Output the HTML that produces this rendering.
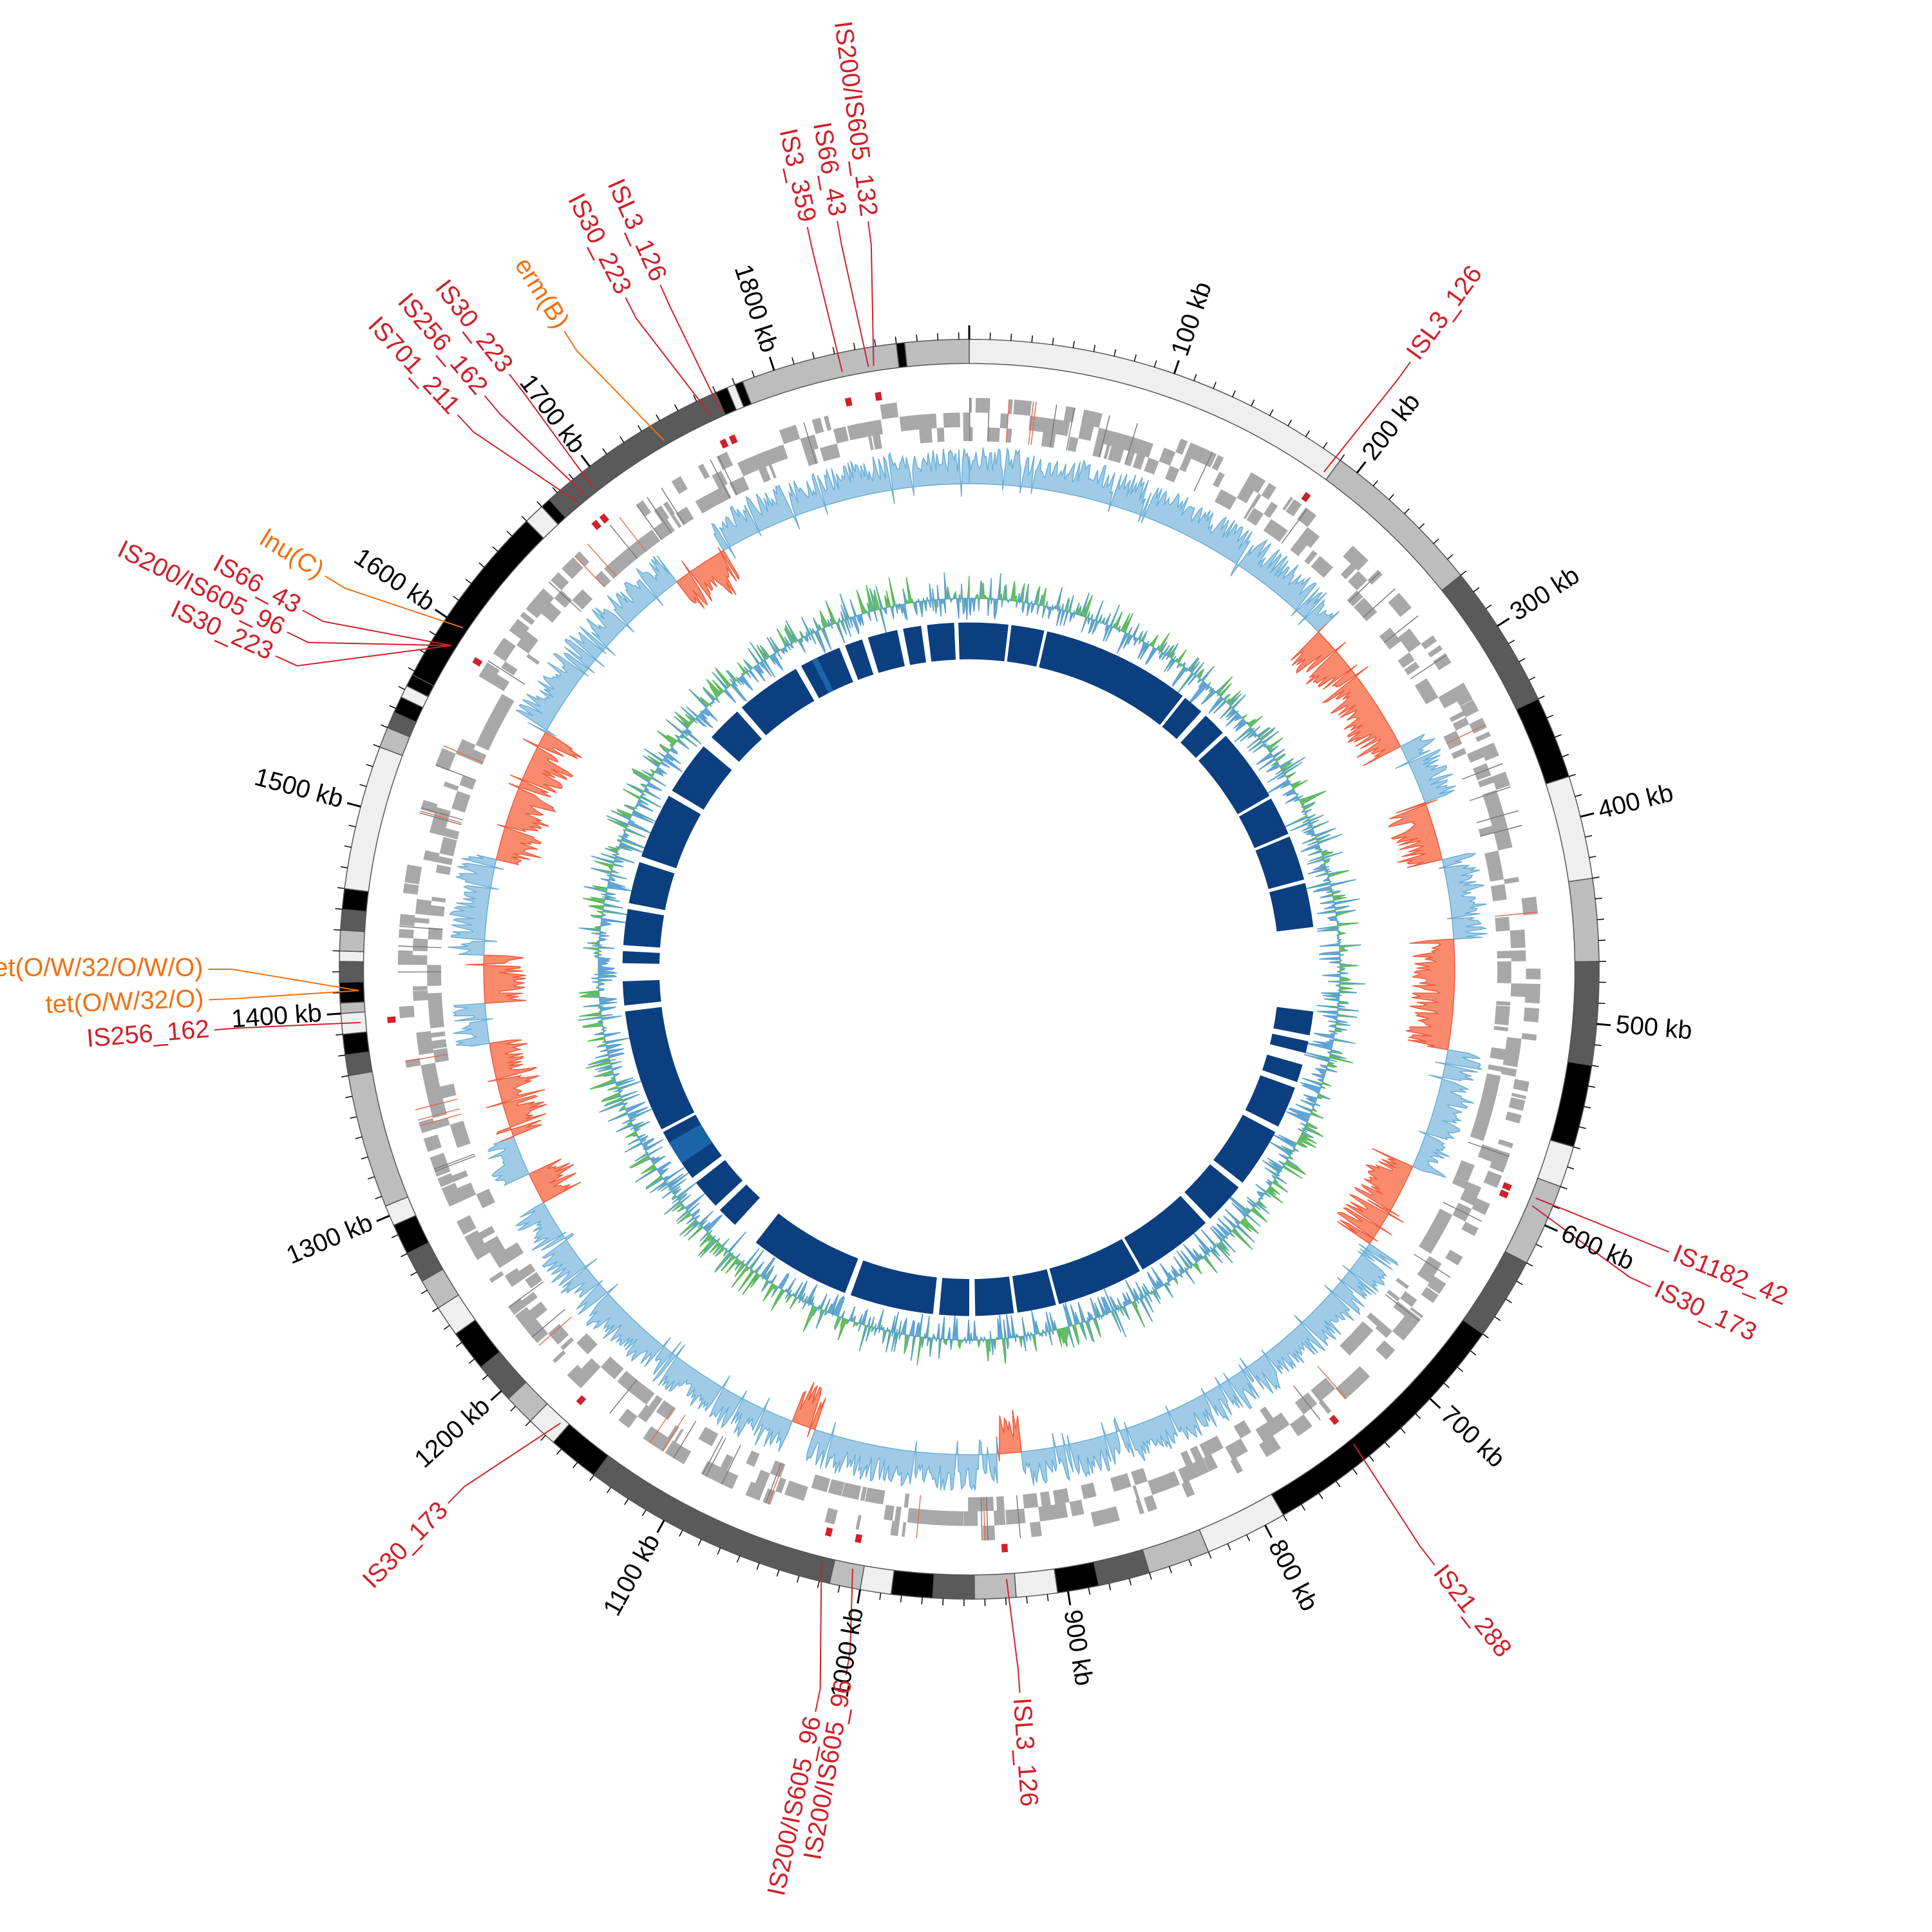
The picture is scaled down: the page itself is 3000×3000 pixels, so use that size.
<!DOCTYPE html>
<html><head><meta charset="utf-8">
<style>
html,body{margin:0;padding:0;background:#fff;}
svg{display:block;}
text{font-family:"Liberation Sans",sans-serif;font-size:40px;dominant-baseline:middle;}
.tk{fill:#000;}
.is{fill:#d0202a;}
.ab{fill:#f07010;}
</style></head>
<body>
<svg id="s" width="3000" height="3000" viewBox="0 0 3000 3000" xmlns="http://www.w3.org/2000/svg">
<rect width="3000" height="3000" fill="#fff"/>
<g transform="translate(1505,1505) scale(0.988) translate(-1524,-1524)">
<g id="shapes"></g>
<g id="lines" fill="none" stroke-width="2"></g>
<g id="labels">
<text class="tk" text-anchor="start" transform="translate(1524,1524) rotate(-71) translate(1020,0)">100 kb</text>
<text class="tk" text-anchor="start" transform="translate(1524,1524) rotate(-52) translate(1020,0)">200 kb</text>
<text class="tk" text-anchor="start" transform="translate(1524,1524) rotate(-33) translate(1020,0)">300 kb</text>
<text class="tk" text-anchor="start" transform="translate(1524,1524) rotate(-14) translate(1020,0)">400 kb</text>
<text class="tk" text-anchor="start" transform="translate(1524,1524) rotate(5) translate(1020,0)">500 kb</text>
<text class="tk" text-anchor="start" transform="translate(1524,1524) rotate(24) translate(1020,0)">600 kb</text>
<text class="tk" text-anchor="start" transform="translate(1524,1524) rotate(43) translate(1020,0)">700 kb</text>
<text class="tk" text-anchor="start" transform="translate(1524,1524) rotate(62) translate(1020,0)">800 kb</text>
<text class="tk" text-anchor="start" transform="translate(1524,1524) rotate(81) translate(1020,0)">900 kb</text>
<text class="tk" text-anchor="end" transform="translate(1524,1524) rotate(280) translate(-1020,0)">1000 kb</text>
<text class="tk" text-anchor="end" transform="translate(1524,1524) rotate(299) translate(-1020,0)">1100 kb</text>
<text class="tk" text-anchor="end" transform="translate(1524,1524) rotate(318) translate(-1020,0)">1200 kb</text>
<text class="tk" text-anchor="end" transform="translate(1524,1524) rotate(337) translate(-1020,0)">1300 kb</text>
<text class="tk" text-anchor="end" transform="translate(1524,1524) rotate(356) translate(-1020,0)">1400 kb</text>
<text class="tk" text-anchor="end" transform="translate(1524,1524) rotate(375) translate(-1020,0)">1500 kb</text>
<text class="tk" text-anchor="end" transform="translate(1524,1524) rotate(394) translate(-1020,0)">1600 kb</text>
<text class="tk" text-anchor="end" transform="translate(1524,1524) rotate(413) translate(-1020,0)">1700 kb</text>
<text class="tk" text-anchor="end" transform="translate(1524,1524) rotate(432) translate(-1020,0)">1800 kb</text>
<text class="is" text-anchor="start" transform="translate(1524,1524) rotate(-54) translate(1188,0)">ISL3_126</text>
<text class="is" text-anchor="start" transform="translate(1524,1524) rotate(22) translate(1194,0)">IS1182_42</text>
<text class="is" text-anchor="start" transform="translate(1524,1524) rotate(25) translate(1190,0)">IS30_173</text>
<text class="is" text-anchor="start" transform="translate(1524,1524) rotate(52) translate(1196,0)">IS21_288</text>
<text class="is" text-anchor="start" transform="translate(1524,1524) rotate(86) translate(1148,0)">ISL3_126</text>
<text class="is" text-anchor="end" transform="translate(1524,1524) rotate(281.7) translate(-1200,0)">IS200/IS605_96</text>
<text class="is" text-anchor="end" transform="translate(1524,1524) rotate(279.9) translate(-1134,0)">IS200/IS605_96</text>
<text class="is" text-anchor="end" transform="translate(1524,1524) rotate(314.3) translate(-1181,0)">IS30_173</text>
<text class="is" text-anchor="end" transform="translate(1524,1524) rotate(355.4) translate(-1198,0)">IS256_162</text>
<text class="ab" text-anchor="end" transform="translate(1524,1524) rotate(357.7) translate(-1204,0)">tet(O/W/32/O)</text>
<text class="ab" text-anchor="end" transform="translate(1524,1524) rotate(360) translate(-1204,0)">tet(O/W/32/O/W/O)</text>
<text class="is" text-anchor="end" transform="translate(1524,1524) rotate(384.3) translate(-1204,0)">IS30_223</text>
<text class="is" text-anchor="end" transform="translate(1524,1524) rotate(386.3) translate(-1204,0)">IS200/IS605_96</text>
<text class="is" text-anchor="end" transform="translate(1524,1524) rotate(388.3) translate(-1198,0)">IS66_43</text>
<text class="ab" text-anchor="end" transform="translate(1524,1524) rotate(391.4) translate(-1194,0)">lnu(C)</text>
<text class="is" text-anchor="end" transform="translate(1524,1524) rotate(407.3) translate(-1194,0)">IS701_211</text>
<text class="is" text-anchor="end" transform="translate(1524,1524) rotate(409.8) translate(-1188,0)">IS256_162</text>
<text class="is" text-anchor="end" transform="translate(1524,1524) rotate(412.3) translate(-1190,0)">IS30_223</text>
<text class="ab" text-anchor="end" transform="translate(1524,1524) rotate(417.6) translate(-1196,0)">erm(B)</text>
<text class="is" text-anchor="end" transform="translate(1524,1524) rotate(422.9) translate(-1194,0)">IS30_223</text>
<text class="is" text-anchor="end" transform="translate(1524,1524) rotate(425.7) translate(-1188,0)">ISL3_126</text>
<text class="is" text-anchor="end" transform="translate(1524,1524) rotate(437.7) translate(-1202,0)">IS3_359</text>
<text class="is" text-anchor="end" transform="translate(1524,1524) rotate(440) translate(-1202,0)">IS66_43</text>
<text class="is" text-anchor="end" transform="translate(1524,1524) rotate(442.3) translate(-1194,0)">IS200/IS605_132</text>
</g>
</g>
</svg>
<script>
(function(){
var C=1524,T=1895;
var G=document.getElementById("shapes"),L=document.getElementById("lines");
function P(a,r){var t=(a-90)*Math.PI/180;return [C+r*Math.cos(t),C+r*Math.sin(t)];}
function f(p){return p[0].toFixed(1)+","+p[1].toFixed(1);}
function ang(kb){return kb*360/T;}
function arc(a0,a1,r0,r1){
 var p1=P(a0,r1),p2=P(a1,r1),p3=P(a1,r0),p4=P(a0,r0),lg=(a1-a0)>180?1:0;
 return "M"+f(p1)+"A"+r1+","+r1+" 0 "+lg+" 1 "+f(p2)+"L"+f(p3)+"A"+r0+","+r0+" 0 "+lg+" 0 "+f(p4)+"Z";
}
var html="";
function path(d,fill,extra){html+='<path d="'+d+'" fill="'+fill+'" '+(extra||"")+'/>';}
var seed=7;function rnd(){seed=(seed*16807)%2147483647;return (seed-1)/2147483646;}
var W="#efefef",LG="#bdbdbd",DG="#5a5a5a",B="#000";
var segs=[[0,190,W],[190,270,LG],[270,340,DG],[340,380,B],[380,430,W],[430,470,LG],[470,520,DG],[520,560,B],[560,580,W],[580,620,LG],[620,660,DG],[660,790,B],[790,830,W],[830,860,LG],[860,885,DG],[885,905,B],[905,925,W],[925,945,LG],[945,965,DG],[965,985,B],[985,1000,W],[1000,1015,LG],[1015,1140,DG],[1140,1165,B],[1165,1180,W],[1180,1195,LG],[1195,1215,DG],[1215,1235,B],[1235,1250,W],[1250,1265,LG],[1265,1280,DG],[1280,1295,B],[1295,1305,W],[1305,1370,LG],[1370,1380,DG],[1380,1390,B],[1390,1400,W],[1400,1405,LG],[1405,1415,B],[1415,1425,DG],[1425,1430,W],[1430,1440,LG],[1440,1450,DG],[1450,1460,B],[1460,1530,W],[1530,1540,LG],[1540,1548,DG],[1548,1556,B],[1556,1562,W],[1562,1568,B],[1568,1660,B],[1660,1670,W],[1670,1675,B],[1675,1770,DG],[1770,1776,B],[1776,1780,W],[1780,1784,B],[1784,1860,LG],[1860,1864,B],[1864,1895,LG]];
segs.forEach(function(s){path(arc(ang(s[0]),ang(s[1]),952,990),s[2],'stroke="#555" stroke-width="1.5"');});
for(var k=0;k<T;k+=10){var m=k%100==0;var a=P(ang(k),990),b=P(ang(k),m?1012:1001);
 html+='<line x1="'+a[0]+'" y1="'+a[1]+'" x2="'+b[0]+'" y2="'+b[1]+'" stroke="#000" stroke-width="'+(m?3:1.5)+'"/>';}
// gene track: dense stair-step bands
var gd="";
var rows=[[875,898],[852,875],[830,852]];
for(var k=0;k<T;){
 var w=2+rnd()*9;
 var ri=Math.floor(rnd()*3);
 gd+=arc(ang(k),ang(Math.min(k+w,T)),rows[ri][0],rows[ri][1]);
 if(rnd()<0.5){var rj=(ri+1)%3;gd+=arc(ang(k),ang(Math.min(k+w*0.7,T)),rows[rj][0],rows[rj][1]);}
 k+=w+(rnd()<0.3?rnd()*2:0);
}
path(gd,"#a8a8a8");
for(var i=0;i<70;i++){var k=rnd()*T;path(arc(ang(k),ang(k+0.5),830,898),rnd()<0.3?"#e36b4f":"#777");}
// GC skew continuous
var regions=[[0,242,1],[242,330,-1],[330,368,1],[368,405,-1],[405,455,1],[455,524,-1],[524,600,1],[600,655,-1],[655,915,1],[915,930,-1],[930,1045,1],[1045,1060,-1],[1060,1270,1],[1270,1290,-1],[1290,1315,1],[1315,1375,-1],[1375,1400,1],[1400,1430,-1],[1430,1490,1],[1490,1575,-1],[1575,1700,1],[1700,1735,-1],[1735,1895,1]];
var base=763,step=1;
regions.forEach(function(rg){
 var s=rg[2],pts=[];
 for(var k=rg[0];k<=rg[1];k+=step){
  var amp=(s>0?58:70)*(0.3+0.7*rnd()); if(rnd()<0.05)amp=-amp*0.4;
  pts.push(f(P(ang(k),base+s*amp)));
 }
 var a0=ang(rg[0]),a1=ang(rg[1]);
 var d="M"+f(P(a0,base))+"L"+pts.join("L")+"L"+f(P(a1,base))+"A"+base+","+base+" 0 0 0 "+f(P(a0,base))+"Z";
 path(d,s>0?"#9fcbe6":"#fa8a6e",'stroke="'+(s>0?"#6aaed6":"#f05a3c")+'" stroke-width="1.5"');
});
// GC content
var base2=583,vals=[];
for(var k=0;k<=T;k+=1){var v=(rnd()-0.5)*2;v=v*Math.abs(v)*40+(rnd()-0.5)*14;vals.push(v);}
var dg="",db="";
for(var i=0;i<vals.length-1;i++){
 var a0=ang(i),a1=ang(i+1),v=vals[i];
 var seg="M"+f(P(a0,base2))+"L"+f(P(a0,base2+v))+"L"+f(P(a1,base2+vals[i+1]))+"L"+f(P(a1,base2))+"Z";
 if(v>0)dg+=seg;else db+=seg;
}
path(dg,"#8fd68f",'stroke="#5ab85a" stroke-width="1.5"');
path(db,"#8fc1e6",'stroke="#5a9fd4" stroke-width="1.5"');
// inner blue ring
var gaps=[[-2.5,-1.8],[6.5,7],[12.5,13],[38,38.5],[42,43],[47,47.7],[60,60.5],[67,67.5],[75,75.6],[83,97],[101,102],[104,106],[109,110],[117,118],[128,129],[136,137],[150,150.5],[165,165.5],[172,172.6],[179,180],[185,186],[200,201],[218,222.5],[226,227],[232,233],[242,242.5],[263,264],[268,271],[273,274],[280,281],[288,289],[300,301],[310,312],[318,319],[330,331],[338,339],[342,343],[348,349],[352,353]];
var list=[],prev=-1.8;
gaps.slice(1).forEach(function(g){list.push([prev,g[0]]);prev=g[1];});
list.push([prev,357.5]);
var d="";list.forEach(function(s){if(s[1]>s[0])d+=arc(s[0],s[1],487,545);});
path(d,"#0b3f80");
[[236,240],[333,334]].forEach(function(s){path(arc(s[0],s[1],487,545),"#1c64a8");});
var marks=[35.5,112,112.8,141,176.5,194,191,222,265,302,320,321,335,336,348,351];
marks.forEach(function(m){path(arc(m-0.3,m+0.3,905,918),"#d0202a");});
G.innerHTML=html;
var labs=[[36,1188,35.5,"#d0202a"],[112,1194,112,"#d0202a"],[115,1190,112.8,"#d0202a"],[142,1196,141,"#d0202a"],[176,1148,176.5,"#d0202a"],[191.7,1200,194,"#d0202a"],[189.9,1134,191,"#d0202a"],[224.3,1181,222,"#d0202a"],[265.4,1198,265,"#d0202a"],[267.7,1204,268,"#f07010"],[270,1204,268,"#f07010"],[294.3,1204,302,"#d0202a"],[296.3,1204,302,"#d0202a"],[298.3,1198,302,"#d0202a"],[301.4,1194,304,"#f07010"],[317.3,1194,320,"#d0202a"],[319.8,1188,321,"#d0202a"],[322.3,1190,322,"#d0202a"],[327.6,1196,330,"#f07010"],[332.9,1194,335,"#d0202a"],[335.7,1188,336,"#d0202a"],[347.7,1202,348,"#d0202a"],[350,1202,350.5,"#d0202a"],[352.3,1194,351,"#d0202a"]];
var lh="";
labs.forEach(function(l){var a=P(l[2],960),b=P(l[0],l[1]-45),c=P(l[0],l[1]-8);
 lh+='<polyline points="'+f(a)+" "+f(b)+" "+f(c)+'" stroke="'+l[3]+'"/>';});
L.innerHTML=lh;
})();
</script>
</body></html>
